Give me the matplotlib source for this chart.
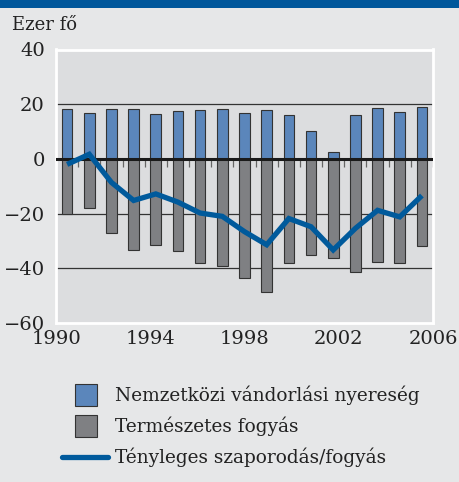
import numpy as np
import matplotlib.pyplot as plt
from matplotlib.patches import Rectangle
from matplotlib.lines import Line2D

years = list(range(1990, 2007))
migration = [18.1, 16.7, 18.3, 18.3, 16.4, 17.5, 17.9, 18.3, 16.7, 17.7,
             16.0, 10.1, 2.7, 16.2, 18.5, 17.3, 18.9]
natural = [-20.0, -17.8, -27.1, -33.3, -31.4, -33.5, -38.0, -39.2, -43.6, -48.7,
           -38.0, -35.2, -36.1, -41.3, -37.6, -38.2, -31.9]
actual = [-2.0, 1.7, -8.6, -15.2, -12.8, -15.8, -19.8, -21.0, -26.6, -31.4,
          -21.8, -24.8, -33.3, -25.4, -18.8, -21.2, -13.4]
x_labels = ["1990", "1994", "1998", "2002", "2006"]
y_ticks = [-60, -40, -20, 0, 20, 40]
legend_labels = ["Nemzetközi vándorlási nyereség", "Természetes fogyás",
                 "Tényleges szaporodás/fogyás"]

BG = "#e6e7e8"
PLOT_BG = "#dcdddf"
BLUE = "#5b86bb"
GRAY = "#7f8083"
LINE = "#005a9c"
FONT = "DejaVu Serif"
TXT = "#222222"

W, H = 459, 482
fig = plt.figure(figsize=(W / 100, H / 100), dpi=100, facecolor=BG)


def fx(px):
    return px / W


def fy(py):
    return 1 - py / H


# top band
fig.add_artist(Rectangle((0, fy(8)), 1, 8 / H, transform=fig.transFigure,
                         color="#00579b", lw=0))

ax = fig.add_axes([fx(56), fy(323), fx(433) - fx(56), fy(49.5) - fy(323)])
ax.set_facecolor(PLOT_BG)
for s in ax.spines.values():
    s.set_color("white")
    s.set_linewidth(2)

n = len(years)
xs = np.arange(n) + 0.5
ax.set_xlim(0, n)
ax.set_ylim(-60, 40)

for v in [20, -20, -40]:
    ax.axhline(v, color="#333333", lw=0.9, zorder=1)

ax.bar(xs, migration, width=0.48, color=BLUE, edgecolor="#333333", lw=0.8, zorder=2)
ax.bar(xs, natural, width=0.48, color=GRAY, edgecolor="#333333", lw=0.8, zorder=2)

# small ticks hanging under the zero line
ax.vlines(np.arange(1, n + 1), -2.8, 0, color="#666666", lw=0.9, zorder=3)
ax.axhline(0, color="#1a1a1a", lw=2.2, zorder=4)

ax.plot(xs, actual, color=LINE, lw=3.8, zorder=5, solid_joinstyle="miter",
        solid_capstyle="butt")

ax.set_yticks(y_ticks)
ax.set_yticklabels([f"\u2212{abs(v)}" if v < 0 else str(v) for v in y_ticks],
                   fontsize=14, family=FONT, color=TXT)
ax.set_xticks(np.linspace(0, n, len(x_labels)))
ax.set_xticklabels(x_labels, fontsize=14, family=FONT, color=TXT)
ax.tick_params(axis="both", length=0)
ax.tick_params(axis="y", pad=8)
ax.tick_params(axis="x", pad=5)

fig.text(fx(12), fy(30), "Ezer fő", fontsize=13, family=FONT, color=TXT,
         va="baseline", ha="left")

# legend
for i, c in enumerate([BLUE, GRAY]):
    top = 384 + i * 31
    fig.add_artist(Rectangle((fx(75), fy(top + 22)), 22 / W, 22 / H,
                             transform=fig.transFigure, facecolor=c,
                             edgecolor="#333333", lw=0.8))
fig.add_artist(Line2D([fx(62), fx(108)], [fy(457), fy(457)], transform=fig.transFigure,
                      color=LINE, lw=3.8, solid_capstyle="round"))
for i, lab in enumerate(legend_labels):
    fig.text(fx(115), fy(395 + i * 31), lab, fontsize=13.3, family=FONT,
             color=TXT, va="center", ha="left")

fig.savefig("out.png", dpi=100, facecolor=BG)
